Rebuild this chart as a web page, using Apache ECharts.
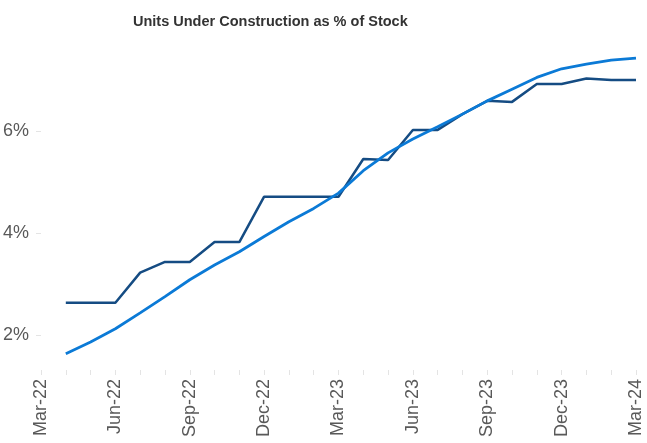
<!DOCTYPE html>
<html>
<head>
<meta charset="utf-8">
<script src="https://cdn.jsdelivr.net/npm/echarts@6/dist/echarts.min.js"></script>
<style>
  html, body { margin: 0; padding: 0; background: #fff; }
  #chart { width: 647px; height: 443px; }
</style>
</head>
<body>
<div id="chart"></div>
<script>
// months on the axis (Mar-22 .. Mar-24), series start at Apr-22
var months = ['Mar-22','Apr-22','May-22','Jun-22','Jul-22','Aug-22','Sep-22','Oct-22','Nov-22','Dec-22',
  'Jan-23','Feb-23','Mar-23','Apr-23','May-23','Jun-23','Jul-23','Aug-23','Sep-23','Oct-23','Nov-23','Dec-23',
  'Jan-24','Feb-24','Mar-24'];

// stepped series (dark)
var underConstruction = [2.63, 2.63, 2.63, 3.22, 3.43, 3.43, 3.82, 3.82, 4.71, 4.71, 4.71, 4.71,
  5.45, 5.43, 6.02, 6.02, 6.33, 6.59, 6.57, 6.92, 6.92, 7.03, 7.00, 7.00];

// smooth series (light)
var trend = [1.63, 1.86, 2.12, 2.43, 2.75, 3.08, 3.37, 3.63, 3.93, 4.22, 4.48, 4.78,
  5.22, 5.57, 5.84, 6.08, 6.33, 6.59, 6.82, 7.05, 7.22, 7.31, 7.39, 7.43];

var chart = echarts.init(document.getElementById('chart'));

chart.setOption({
  animation: false,
  title: {
    text: 'Units Under Construction as % of Stock',
    left: 128,
    top: 9,
    textStyle: {
      fontFamily: 'Liberation Sans',
      fontWeight: 'bold',
      fontSize: 14.5,
      color: '#333'
    }
  },
  grid: {
    left: 40,
    right: 11,
    top: 29,
    bottom: 73,
    containLabel: false
  },
  xAxis: {
    type: 'category',
    data: months,
    boundaryGap: false,
    axisLine: { show: false },
    axisTick: {
      show: true,
      interval: 0,
      length: 5,
      lineStyle: { color: '#e4e4e4' }
    },
    axisLabel: {
      interval: 2,
      rotate: 90,
      margin: 9,
      fontFamily: 'Liberation Sans',
      fontSize: 18,
      color: '#595959'
    }
  },
  yAxis: {
    type: 'value',
    min: 1.31,
    max: 8,
    splitNumber: 3,
    splitLine: { show: false },
    axisLine: { show: false },
    axisTick: {
      show: true,
      length: 5,
      lineStyle: { color: '#e4e4e4' }
    },
    axisLabel: {
      showMinLabel: false,
      showMaxLabel: false,
      margin: 12,
      fontFamily: 'Liberation Sans',
      fontSize: 18,
      color: '#595959',
      formatter: function (v) { return v + '%'; }
    }
  },
  series: [
    {
      type: 'line',
      data: [null].concat(underConstruction),
      symbol: 'none',
      lineStyle: { color: '#154C83', width: 2.5 },
      z: 2
    },
    {
      type: 'line',
      data: [null].concat(trend),
      symbol: 'none',
      lineStyle: { color: '#0B7AD6', width: 2.8 },
      z: 3
    }
  ]
});
</script>
</body>
</html>
